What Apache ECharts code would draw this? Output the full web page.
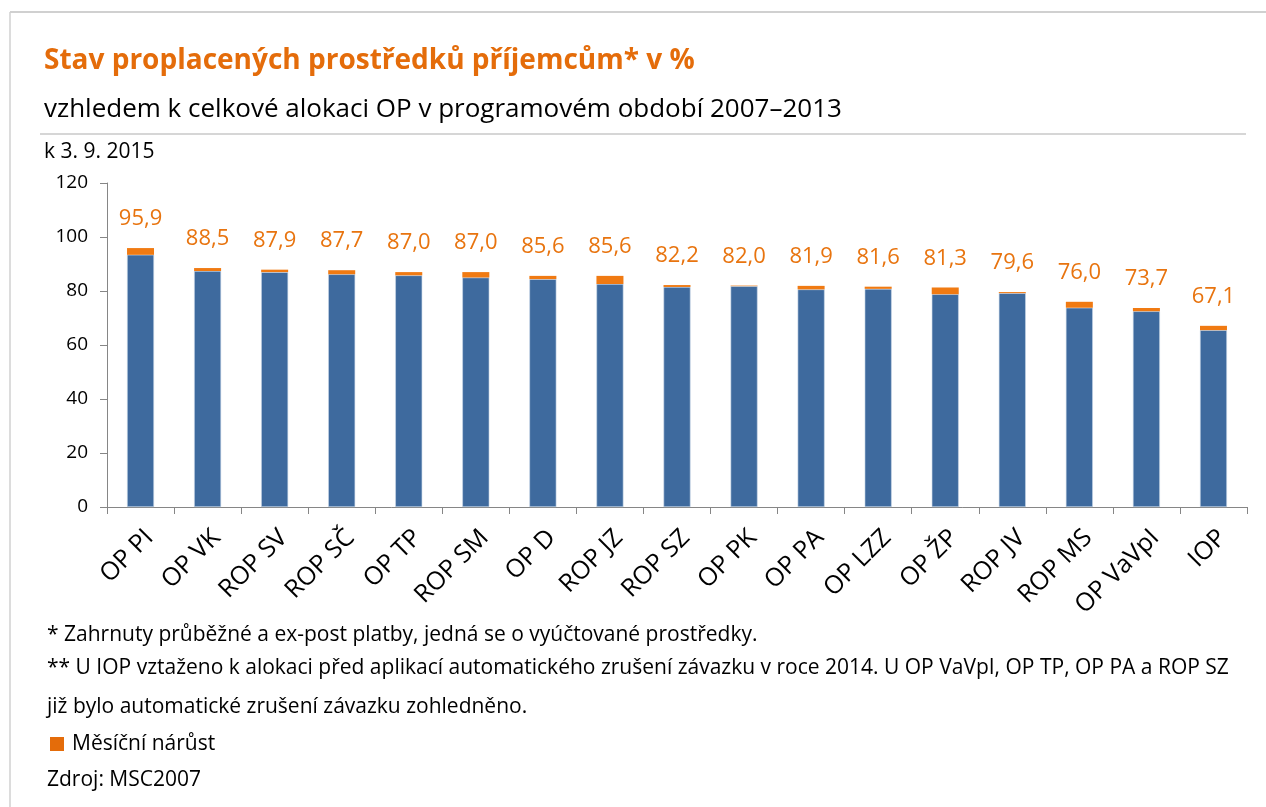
<!DOCTYPE html>
<html>
<head>
<meta charset="utf-8">
<script src="https://cdn.jsdelivr.net/npm/echarts@6/dist/echarts.min.js"></script>
<style>
html,body{margin:0;padding:0;background:#fff;}
#chart{width:1266px;height:807px;}
</style>
</head>
<body>
<div id="chart"></div>
<script>
const categories = ['OP PI','OP VK','ROP SV','ROP SČ','OP TP','ROP SM','OP D','ROP JZ','ROP SZ','OP PK','OP PA','OP LZZ','OP ŽP','ROP JV','ROP MS','OP VaVpI','IOP'];
const totals = [95.9,88.5,87.9,87.7,87.0,87.0,85.6,85.6,82.2,82.0,81.9,81.6,81.3,79.6,76.0,73.7,67.1];
const monthlyIncrease = [2.5,1.1,0.9,1.5,1.2,2.0,1.2,3.0,0.7,0.2,1.3,0.8,2.5,0.4,2.2,1.2,1.6];
const yTicks = [0,20,40,60,80,100,120];

const baseValues = totals.map((t,i)=>+(t - monthlyIncrease[i]).toFixed(1));

const FONT = '"Open Sans", "Noto Sans", sans-serif';
const chart = echarts.init(document.getElementById('chart'), null, {renderer:'canvas'});

chart.setOption({
  animation:false,
  textStyle:{fontFamily:FONT},
  grid:{left:107, right:19, top:183, bottom:300, containLabel:false},
  xAxis:{
    type:'category',
    data:categories,
    axisLine:{lineStyle:{color:'#868686', width:1}},
    axisTick:{show:true, length:7, lineStyle:{color:'#868686'}},
    axisLabel:{rotate:45, fontSize:25, color:'#000', margin:18, fontFamily:FONT, interval:0, verticalAlign:'top'}
  },
  yAxis:{
    type:'value', min:yTicks[0], max:yTicks[yTicks.length-1], interval:20,
    splitLine:{show:false},
    axisLine:{show:true, lineStyle:{color:'#868686', width:1}},
    axisTick:{show:true, length:7, lineStyle:{color:'#868686'}},
    axisLabel:{fontSize:19, color:'#000', margin:19, fontFamily:FONT}
  },
  series:[
    {type:'bar', stack:'s', data:baseValues, barWidth:27, itemStyle:{color:'#3E6A9E', borderColor:'#C9D6E8', borderWidth:0.6}},
    {type:'bar', stack:'s', data:monthlyIncrease, barWidth:27, itemStyle:{color:'#F07A12'},
     label:{show:true, position:'top', distance:18, color:'#E8740F', fontSize:22, fontFamily:FONT,
       formatter:(p)=>totals[p.dataIndex].toFixed(1).replace('.',',')}}
  ],
  graphic:[
    {type:'line', shape:{x1:10,y1:12,x2:1266,y2:12}, style:{stroke:'#D0D0D0', lineWidth:2}},
    {type:'line', shape:{x1:10,y1:12,x2:10,y2:807}, style:{stroke:'#D0D0D0', lineWidth:1.5}},
    {type:'text', left:44, top:47, style:{text:'Stav proplacených prostředků příjemcům* v %', font:'bold 28px '+FONT, fill:'#E46C0A'}},
    {type:'text', left:44, top:97, style:{text:'vzhledem k celkové alokaci OP v programovém období 2007–2013', font:'26px '+FONT, fill:'#000'}},
    {type:'line', shape:{x1:40,y1:134,x2:1246,y2:134}, style:{stroke:'#D6D6D6', lineWidth:2}},
    {type:'text', left:44, top:142, style:{text:'k 3. 9. 2015', font:'21px '+FONT, fill:'#000'}},
    {type:'text', left:47, top:625, style:{text:'* Zahrnuty průběžné a ex-post platby, jedná se o vyúčtované prostředky.', font:'21px '+FONT, fill:'#000'}},
    {type:'text', left:47, top:658, style:{text:'** U IOP vztaženo k alokaci před aplikací automatického zrušení závazku v roce 2014. U OP VaVpI, OP TP, OP PA a ROP SZ', font:'21px '+FONT, fill:'#000'}},
    {type:'text', left:47, top:697, style:{text:'již bylo automatické zrušení závazku zohledněno.', font:'21px '+FONT, fill:'#000'}},
    {type:'rect', shape:{x:50,y:737,width:14,height:14}, style:{fill:'#E46C0A'}},
    {type:'text', left:72, top:734, style:{text:'Měsíční nárůst', font:'21px '+FONT, fill:'#000'}},
    {type:'text', left:47, top:770, style:{text:'Zdroj: MSC2007', font:'21px '+FONT, fill:'#000'}}
  ]
});
</script>
</body>
</html>
